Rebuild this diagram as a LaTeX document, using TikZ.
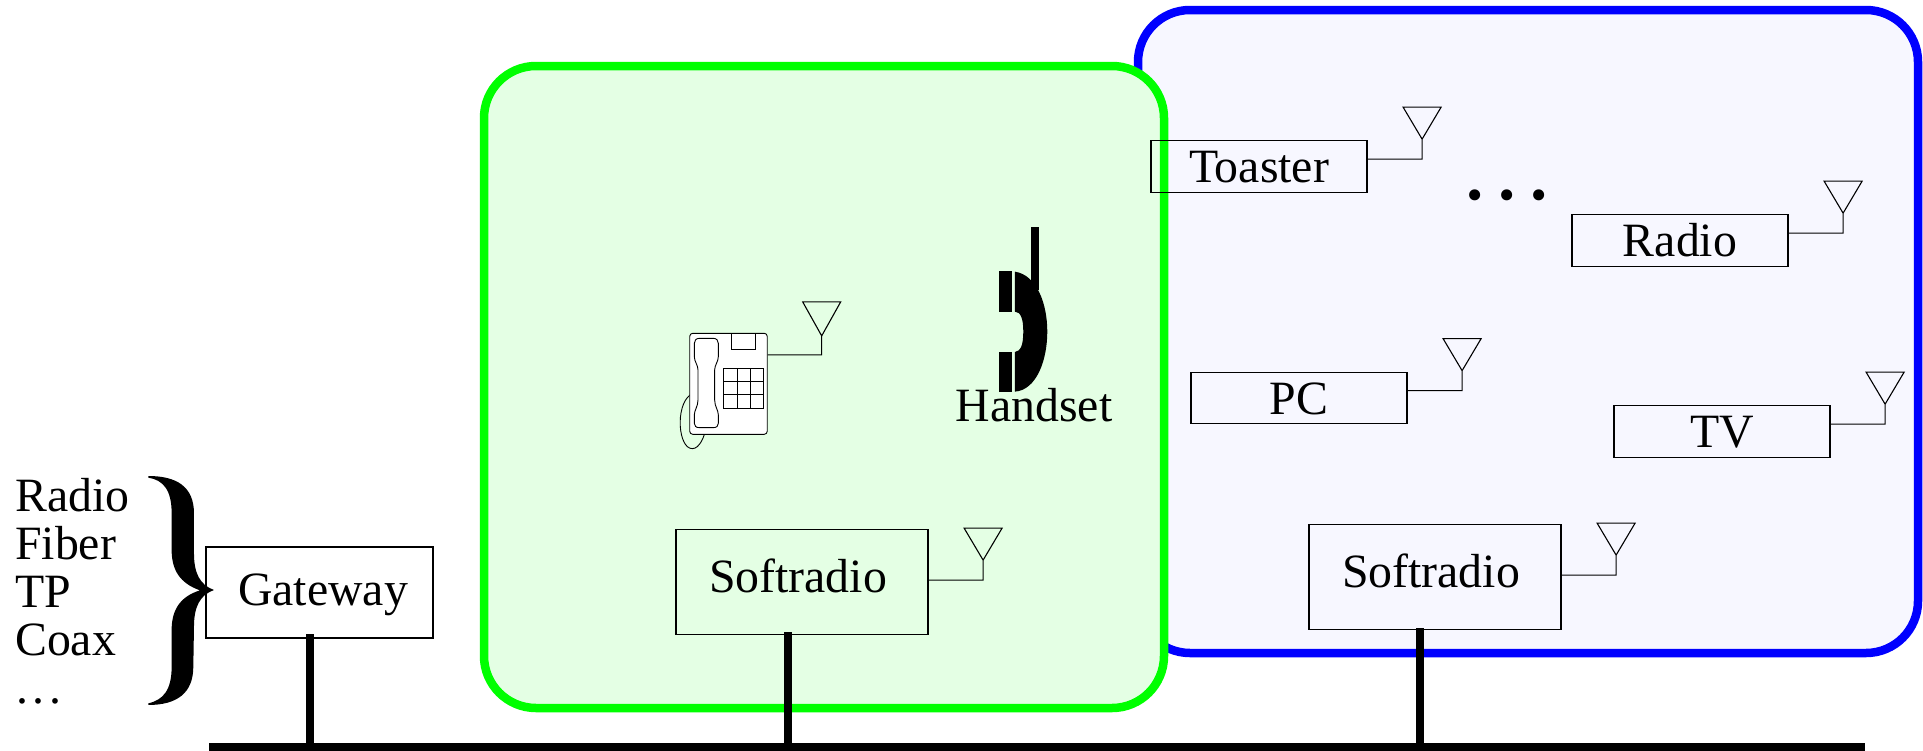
\documentclass[tikz,border=0pt]{standalone}
\usepackage{fontspec}
\setmainfont{Liberation Serif}
\usetikzlibrary{calc}
\definecolor{zonegreen}{HTML}{E4FFE4}
\definecolor{zoneblue}{HTML}{F7F7FF}
\newcommand{\T}[3]{\kern#1pt\raisebox{-#2pt}{#3}}
\newcommand{\threedots}{.\kern.097em.\kern.097em.}
\newcommand{\ant}[2]{\draw[wire] ([yshift=-#2pt]#1.north east) -- ++(54.5,0) -- ++(0,-20) -- ++(-19,-32) -- ++(38,0) -- ++(-19,32);}
\tikzset{
  x=1pt,y=-1pt,
  zone/.style={line width=8.5pt,rounded corners=52pt},
  box/.style={draw=black,line width=1.2pt,inner sep=0pt,text height=0pt,text depth=0pt,align=center,
     font=\fontsize{47.8pt}{50pt}\selectfont},
  small/.style={box,minimum width=216pt,minimum height=51.5pt},
  big/.style={box,minimum width=252pt,minimum height=105pt},
  lab/.style={inner sep=0pt,anchor=base west,font=\fontsize{47.8pt}{50pt}\selectfont},
  wire/.style={line width=1.1pt,line join=miter},
  phoneline/.style={line width=0.9pt},
  busline/.style={line width=8pt,line cap=butt},
}
\begin{document}
\begin{tikzpicture}
\useasboundingbox (0,0) rectangle (1923,750);
% zones
\draw[zone,draw=blue,fill=zoneblue] (1138,10) rectangle (1918,653);
\draw[zone,draw=green,fill=zonegreen] (484,66) rectangle (1164,708);
% bus
\coordinate (busL) at (209,747);
\coordinate (busR) at (1865,747);
\draw[busline] (busL) -- (busR);
% boxes
\node[box,minimum width=227pt,minimum height=91pt] (gw) at (319.5,592.5) {\T{7}{12.5}{Gateway}};
\node[big] (softL) at (802,582) {\T{-8}{10}{Softradio}};
\node[big] (softR) at (1435,577) {\T{-8}{10}{Softradio}};
\node[small] (toaster) at (1259,166.5) {\T{0}{16}{Toaster}};
\node[small] (radio) at (1680,240.5) {\T{0}{16}{Radio}};
\node[small] (pc) at (1299,398) {\T{0}{16}{PC}};
\node[small] (tv) at (1722,431.5) {\T{0}{16}{TV}};
% stubs
\coordinate (gwS) at (310,634);
\coordinate (softLS) at (788,632);
\coordinate (softRS) at (1420,628);
\foreach \s in {gwS,softLS,softRS} \draw[busline] (\s) -- (\s |- busL);
% antennas
\ant{toaster}{19}\ant{radio}{19}\ant{pc}{19}\ant{tv}{19}
\ant{softL}{51.2}\ant{softR}{51.2}
% dots
\node[lab,font=\fontsize{93pt}{100pt}\selectfont] (moredots) at (1463,199) {\threedots};
% media list
\node[lab] (m1) at (15,511) {Radio};
\node[lab] (m2) at (15,559) {Fiber};
\node[lab] (m3) at (15,607) {TP};
\node[lab] (m4) at (15,655) {Coax};
\node[lab] (m5) at (16,703) {\threedots};
% brace
\begin{scope}[shift={(0,450)},x=0.3333pt,y=-0.3333pt]
\fill (445,78) .. controls (530,78) and (582,110) .. (582,190) -- (582,310)
  .. controls (582,370) and (600,405) .. (642,420)
  .. controls (600,435) and (582,470) .. (582,530) -- (580,650)
  .. controls (580,730) and (530,765) .. (445,765) -- (445,760)
  .. controls (490,750) and (515,720) .. (515,650) -- (515,540)
  .. controls (515,480) and (540,440) .. (600,421)
  .. controls (540,400) and (515,360) .. (515,300) -- (515,190)
  .. controls (515,120) and (490,90) .. (445,83) -- cycle;
\end{scope}
% desk phone
\begin{scope}[shift={(640,210)},x=0.3333pt,y=-0.3333pt]
\draw[phoneline] (150,555) .. controls (105,590) and (115,716) .. (157,716) .. controls (178,716) and (195,680) .. (197,652);
\node[draw=black,fill=white,line width=0.9pt,rounded corners=3pt,inner sep=0pt,minimum width=77.5pt,minimum height=101pt] (phone) at (265.5,521.5) {};
\draw[phoneline] (275,371) -- (275,418) -- (346,418) -- (346,371);
\draw[phoneline] (251,476) rectangle (370,594);
\foreach \v in {291,330} \draw[phoneline] (\v,476) -- (\v,594);
\foreach \v in {515,554} \draw[phoneline] (251,\v) -- (370,\v);
\draw[phoneline,fill=white] (178,385) -- (220,385) .. controls (230,385) and (235,392) .. (235,400) -- (235,440)
  .. controls (235,455) and (224,465) .. (224,480) -- (224,570) .. controls (224,590) and (235,600) .. (235,615) -- (235,640)
  .. controls (235,648) and (230,653) .. (220,653) -- (178,653) .. controls (168,653) and (163,648) .. (163,640) -- (163,615)
  .. controls (163,600) and (174,590) .. (174,570) -- (174,480) .. controls (174,465) and (163,455) .. (163,440) -- (163,400)
  .. controls (163,392) and (168,385) .. (178,385) -- cycle;
\end{scope}
\draw[wire] ([yshift=-22pt]phone.north east) -- ++(54,0) -- ++(0,-19) -- ++(-19,-34) -- ++(38,0) -- ++(-19,34);
% handset
\begin{scope}[shift={(640,210)},x=0.3333pt,y=-0.3333pt]
\fill (1077,183) rectangle (1116,305);
\fill (1077,426) rectangle (1116,546);
\fill (1172,52) rectangle (1196,240);
\fill (1125,185) .. controls (1190,195) and (1222,280) .. (1222,365) .. controls (1222,450) and (1190,540) .. (1125,545) -- (1125,426)
  .. controls (1142,424) and (1150,405) .. (1150,365) .. controls (1150,325) and (1142,306) .. (1125,305) -- cycle;
\end{scope}
\node[lab,anchor=base] (hs) at (1034,421) {Handset};
\end{tikzpicture}
\end{document}
